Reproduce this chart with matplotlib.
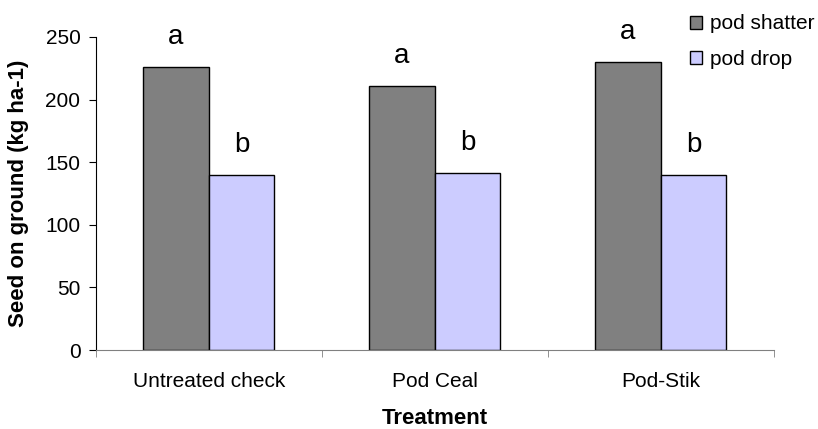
import numpy as np
import matplotlib.pyplot as plt

plt.rcParams['font.family'] = ['Liberation Sans', 'DejaVu Sans']

treatments = ['Untreated check', 'Pod Ceal', 'Pod-Stik']
pod_shatter = [226, 211, 230]
pod_drop = [140, 141, 140]
shatter_letters = ['a', 'a', 'a']
drop_letters = ['b', 'b', 'b']

fig = plt.figure(figsize=(8.18, 4.29), dpi=100)
ax = fig.add_axes([0.117, 0.184, 0.829, 0.730])

x = np.arange(len(treatments))
w = 0.29
b1 = ax.bar(x - w / 2, pod_shatter, w, color='#808080', edgecolor='black', linewidth=1, label='pod shatter')
b2 = ax.bar(x + w / 2, pod_drop, w, color='#ccccff', edgecolor='black', linewidth=1, label='pod drop')

# significance letters above the bars
for i in range(len(treatments)):
    ax.text(x[i] - w / 2, pod_shatter[i] + 24, shatter_letters[i], ha='center', va='center', fontsize=20)
    ax.text(x[i] + w / 2, pod_drop[i] + 24, drop_letters[i], ha='center', va='center', fontsize=20)

ax.set_xlim(-0.5, len(treatments) - 0.5)
ax.set_ylim(0, 250)
ax.set_yticks(np.arange(0, 251, 50))
ax.set_xticks(x)
ax.set_xticklabels(treatments, fontsize=15)
ax.set_xticks(np.arange(-0.5, len(treatments), 1), minor=True)
ax.tick_params(axis='x', which='major', length=0, pad=16)
ax.tick_params(axis='x', which='minor', length=5, direction='out', color='#808080')
ax.tick_params(axis='y', labelsize=15, length=5, direction='out', pad=6)
ax.spines['top'].set_visible(False)
ax.spines['right'].set_visible(False)
ax.spines['bottom'].set_color('#808080')
ax.set_ylabel('Seed on ground (kg ha-1)', fontsize=16, fontweight='bold', labelpad=12)
ax.set_xlabel('Treatment', fontsize=16, fontweight='bold', labelpad=12)

fig.legend(handles=[b1, b2], loc='upper left', bbox_to_anchor=(0.82, 1.01), frameon=False,
           fontsize=15, handlelength=0.6, handleheight=0.6, handletextpad=0.4, labelspacing=0.8)

fig.savefig('out.png', dpi=100)
